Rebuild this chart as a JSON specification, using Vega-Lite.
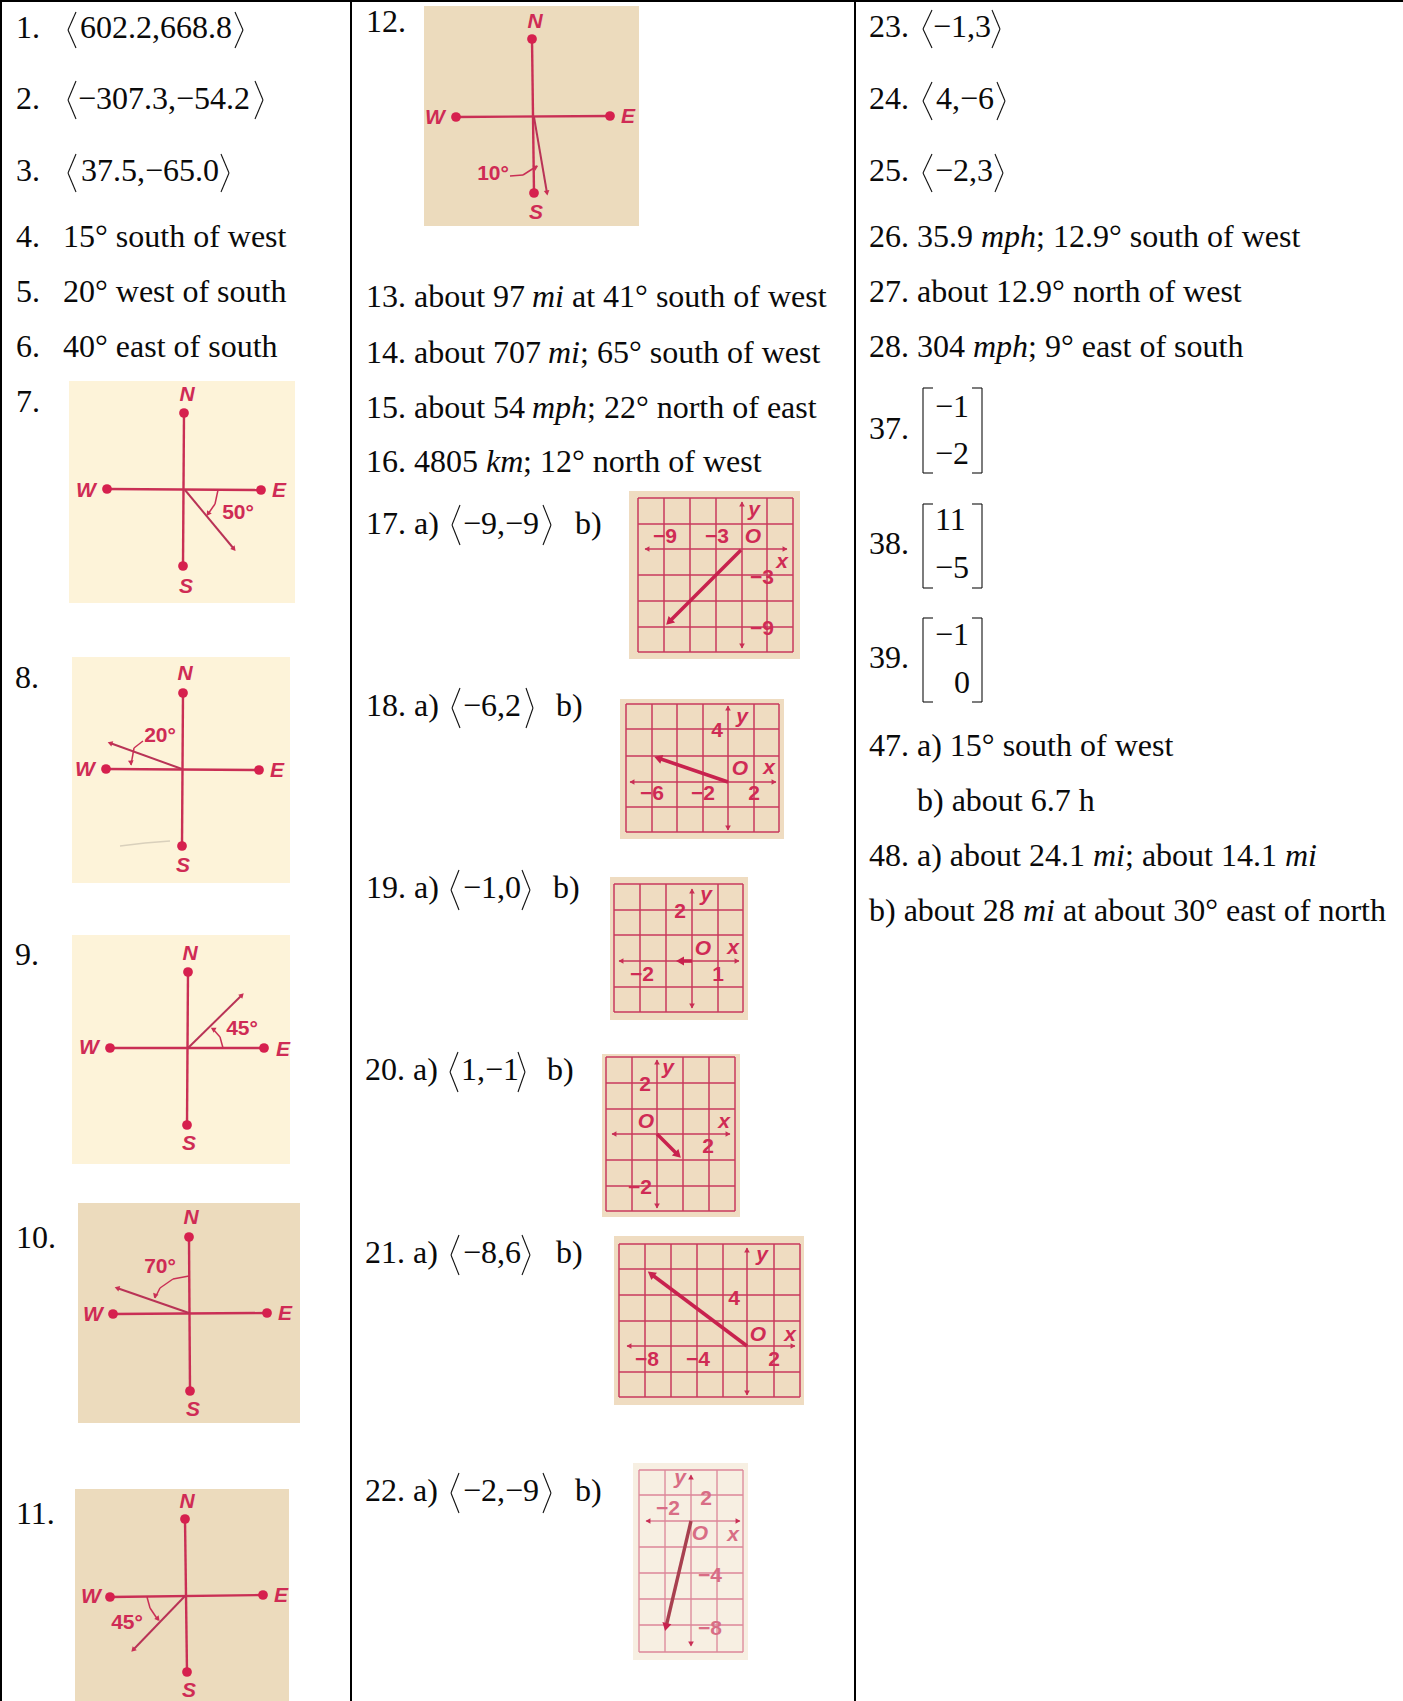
{"$schema":"https://vega.github.io/schema/vega-lite/v6.json","width":1403,"height":1701,"autosize":"none","padding":0,"background":"white","view":{"stroke":null},
"datasets":{
"panels":[
{"id":"7","paper":"cream","x":69,"x2":295,"y":381,"y2":603},
{"id":"8","paper":"cream","x":72,"x2":290,"y":657,"y2":883},
{"id":"9","paper":"cream","x":72,"x2":290,"y":935,"y2":1164},
{"id":"10","paper":"tan","x":78,"x2":300,"y":1203,"y2":1423},
{"id":"11","paper":"tan","x":75,"x2":289,"y":1489,"y2":1701},
{"id":"12","paper":"tan","x":424,"x2":639,"y":6,"y2":226},
{"id":"17","paper":"tan2","x":629,"x2":800,"y":491,"y2":659},
{"id":"18","paper":"tan2","x":620,"x2":784,"y":699,"y2":839},
{"id":"19","paper":"tan2","x":610,"x2":748,"y":877,"y2":1020},
{"id":"20","paper":"tan2","x":602,"x2":740,"y":1054,"y2":1217},
{"id":"21","paper":"tan2","x":614,"x2":804,"y":1236,"y2":1405},
{"id":"22","paper":"pale","x":633,"x2":748,"y":1463,"y2":1660}],
"strokes":[
{"k":"table","x":0,"x2":1403,"y":1,"y2":1},{"k":"table","x":1,"x2":1,"y":0,"y2":1701},{"k":"table","x":351,"x2":351,"y":0,"y2":1701},{"k":"table","x":855,"x2":855,"y":0,"y2":1701},
{"k":"smudge","x":120,"x2":145,"y":846,"y2":843},{"k":"smudge","x":145,"x2":170,"y":843,"y2":841},
{"k":"axis","x":184,"x2":183,"y":413,"y2":566},{"k":"axis","x":107,"x2":261,"y":489,"y2":490},{"k":"ray","x":185,"x2":234,"y":490,"y2":549},{"k":"arc","x":218,"x2":215,"y":490,"y2":504},{"k":"arc","x":215,"x2":208,"y":504,"y2":514},
{"k":"axis","x":183,"x2":182,"y":693,"y2":846},{"k":"axis","x":106,"x2":259,"y":769,"y2":770},{"k":"ray","x":182,"x2":110,"y":769,"y2":743},{"k":"arc","x":143,"x2":134,"y":741,"y2":748},{"k":"arc","x":134,"x2":131,"y":748,"y2":765},
{"k":"axis","x":188,"x2":187,"y":972,"y2":1125},{"k":"axis","x":110,"x2":264,"y":1048,"y2":1048},{"k":"ray","x":188,"x2":242,"y":1048,"y2":995},{"k":"arc","x":223,"x2":220,"y":1048,"y2":1037},{"k":"arc","x":220,"x2":213,"y":1037,"y2":1029},
{"k":"axis","x":189,"x2":190,"y":1237,"y2":1391},{"k":"axis","x":113,"x2":267,"y":1314,"y2":1313},{"k":"ray","x":189,"x2":117,"y":1313,"y2":1288},{"k":"arc","x":189,"x2":173,"y":1276,"y2":1279},{"k":"arc","x":173,"x2":160,"y":1279,"y2":1288},{"k":"arc","x":160,"x2":155,"y":1288,"y2":1298},
{"k":"axis","x":185,"x2":187,"y":1519,"y2":1672},{"k":"axis","x":110,"x2":263,"y":1597,"y2":1595},{"k":"ray","x":185,"x2":133,"y":1596,"y2":1650},{"k":"arc","x":147,"x2":150,"y":1597,"y2":1608},{"k":"arc","x":150,"x2":158,"y":1608,"y2":1620},
{"k":"axis","x":532,"x2":534,"y":39,"y2":193},{"k":"axis","x":456,"x2":610,"y":117,"y2":116},{"k":"ray","x":534,"x2":547,"y":117,"y2":193},{"k":"arc","x":510,"x2":523,"y":176,"y2":175},{"k":"arc","x":523,"x2":537,"y":175,"y2":166},
{"k":"grid","x":638,"x2":638,"y":498,"y2":652},{"k":"grid","x":664,"x2":664,"y":498,"y2":652},{"k":"grid","x":690,"x2":690,"y":498,"y2":652},{"k":"grid","x":716,"x2":716,"y":498,"y2":652},{"k":"grid","x":767,"x2":767,"y":498,"y2":652},{"k":"grid","x":793,"x2":793,"y":498,"y2":652},
{"k":"grid","x":638,"x2":793,"y":498,"y2":498},{"k":"grid","x":638,"x2":793,"y":524,"y2":524},{"k":"grid","x":638,"x2":793,"y":575,"y2":575},{"k":"grid","x":638,"x2":793,"y":601,"y2":601},{"k":"grid","x":638,"x2":793,"y":627,"y2":627},{"k":"grid","x":638,"x2":793,"y":652,"y2":652},
{"k":"grid","x":645,"x2":787,"y":549,"y2":549},{"k":"grid","x":742,"x2":742,"y":502,"y2":648},{"k":"vector","x":741,"x2":669,"y":550,"y2":622},
{"k":"grid","x":626,"x2":626,"y":704,"y2":832},{"k":"grid","x":652,"x2":652,"y":704,"y2":832},{"k":"grid","x":677,"x2":677,"y":704,"y2":832},{"k":"grid","x":703,"x2":703,"y":704,"y2":832},{"k":"grid","x":754,"x2":754,"y":704,"y2":832},{"k":"grid","x":779,"x2":779,"y":704,"y2":832},
{"k":"grid","x":626,"x2":779,"y":704,"y2":704},{"k":"grid","x":626,"x2":779,"y":729,"y2":729},{"k":"grid","x":626,"x2":779,"y":756,"y2":756},{"k":"grid","x":626,"x2":779,"y":807,"y2":807},{"k":"grid","x":626,"x2":779,"y":832,"y2":832},
{"k":"grid","x":630,"x2":776,"y":782,"y2":782},{"k":"grid","x":728,"x2":728,"y":706,"y2":830},{"k":"vector","x":728,"x2":658,"y":782,"y2":758},
{"k":"grid","x":614,"x2":614,"y":884,"y2":1012},{"k":"grid","x":640,"x2":640,"y":884,"y2":1012},{"k":"grid","x":666,"x2":666,"y":884,"y2":1012},{"k":"grid","x":718,"x2":718,"y":884,"y2":1012},{"k":"grid","x":743,"x2":743,"y":884,"y2":1012},
{"k":"grid","x":614,"x2":743,"y":884,"y2":884},{"k":"grid","x":614,"x2":743,"y":910,"y2":910},{"k":"grid","x":614,"x2":743,"y":935,"y2":935},{"k":"grid","x":614,"x2":743,"y":987,"y2":987},{"k":"grid","x":614,"x2":743,"y":1012,"y2":1012},
{"k":"grid","x":619,"x2":739,"y":961,"y2":961},{"k":"grid","x":692,"x2":692,"y":889,"y2":1008},{"k":"vector","x":692,"x2":680,"y":961,"y2":961},
{"k":"grid","x":606,"x2":606,"y":1057,"y2":1211},{"k":"grid","x":632,"x2":632,"y":1057,"y2":1211},{"k":"grid","x":683,"x2":683,"y":1057,"y2":1211},{"k":"grid","x":709,"x2":709,"y":1057,"y2":1211},{"k":"grid","x":735,"x2":735,"y":1057,"y2":1211},
{"k":"grid","x":606,"x2":735,"y":1057,"y2":1057},{"k":"grid","x":606,"x2":735,"y":1083,"y2":1083},{"k":"grid","x":606,"x2":735,"y":1109,"y2":1109},{"k":"grid","x":606,"x2":735,"y":1160,"y2":1160},{"k":"grid","x":606,"x2":735,"y":1186,"y2":1186},{"k":"grid","x":606,"x2":735,"y":1211,"y2":1211},
{"k":"grid","x":612,"x2":730,"y":1134,"y2":1134},{"k":"grid","x":657,"x2":657,"y":1060,"y2":1208},{"k":"vector","x":657,"x2":678,"y":1134,"y2":1155},
{"k":"grid","x":619,"x2":619,"y":1244,"y2":1397},{"k":"grid","x":645,"x2":645,"y":1244,"y2":1397},{"k":"grid","x":671,"x2":671,"y":1244,"y2":1397},{"k":"grid","x":697,"x2":697,"y":1244,"y2":1397},{"k":"grid","x":723,"x2":723,"y":1244,"y2":1397},{"k":"grid","x":774,"x2":774,"y":1244,"y2":1397},{"k":"grid","x":800,"x2":800,"y":1244,"y2":1397},
{"k":"grid","x":619,"x2":800,"y":1244,"y2":1244},{"k":"grid","x":619,"x2":800,"y":1269,"y2":1269},{"k":"grid","x":619,"x2":800,"y":1295,"y2":1295},{"k":"grid","x":619,"x2":800,"y":1321,"y2":1321},{"k":"grid","x":619,"x2":800,"y":1372,"y2":1372},{"k":"grid","x":619,"x2":800,"y":1397,"y2":1397},
{"k":"grid","x":627,"x2":795,"y":1346,"y2":1346},{"k":"grid","x":747,"x2":747,"y":1248,"y2":1395},{"k":"vector","x":747,"x2":651,"y":1346,"y2":1274},
{"k":"palegrid","x":639,"x2":639,"y":1470,"y2":1652},{"k":"palegrid","x":665,"x2":665,"y":1470,"y2":1652},{"k":"palegrid","x":717,"x2":717,"y":1470,"y2":1652},{"k":"palegrid","x":743,"x2":743,"y":1470,"y2":1652},
{"k":"palegrid","x":639,"x2":743,"y":1470,"y2":1470},{"k":"palegrid","x":639,"x2":743,"y":1495,"y2":1495},{"k":"palegrid","x":639,"x2":743,"y":1547,"y2":1547},{"k":"palegrid","x":639,"x2":743,"y":1573,"y2":1573},{"k":"palegrid","x":639,"x2":743,"y":1599,"y2":1599},{"k":"palegrid","x":639,"x2":743,"y":1625,"y2":1625},{"k":"palegrid","x":639,"x2":743,"y":1652,"y2":1652},
{"k":"palegrid","x":646,"x2":740,"y":1521,"y2":1521},{"k":"palegrid","x":691,"x2":691,"y":1475,"y2":1646},{"k":"palevector","x":691,"x2":666,"y":1521,"y2":1627},
{"k":"bracket","x":76,"x2":68,"y":12,"y2":30},{"k":"bracket","x":68,"x2":76,"y":30,"y2":48},{"k":"bracket","x":235,"x2":243,"y":12,"y2":30},{"k":"bracket","x":243,"x2":235,"y":30,"y2":48},
{"k":"bracket","x":76,"x2":68,"y":81,"y2":100},{"k":"bracket","x":68,"x2":76,"y":100,"y2":119},{"k":"bracket","x":255,"x2":263,"y":81,"y2":100},{"k":"bracket","x":263,"x2":255,"y":100,"y2":119},
{"k":"bracket","x":76,"x2":68,"y":154,"y2":173},{"k":"bracket","x":68,"x2":76,"y":173,"y2":192},{"k":"bracket","x":221,"x2":229,"y":154,"y2":173},{"k":"bracket","x":229,"x2":221,"y":173,"y2":192},
{"k":"bracket","x":460,"x2":452,"y":505,"y2":525},{"k":"bracket","x":452,"x2":460,"y":525,"y2":545},{"k":"bracket","x":543,"x2":551,"y":505,"y2":525},{"k":"bracket","x":551,"x2":543,"y":525,"y2":545},
{"k":"bracket","x":460,"x2":452,"y":688,"y2":708},{"k":"bracket","x":452,"x2":460,"y":708,"y2":728},{"k":"bracket","x":526,"x2":533,"y":688,"y2":708},{"k":"bracket","x":533,"x2":526,"y":708,"y2":728},
{"k":"bracket","x":459,"x2":451,"y":870,"y2":890},{"k":"bracket","x":451,"x2":459,"y":890,"y2":910},{"k":"bracket","x":522,"x2":530,"y":870,"y2":890},{"k":"bracket","x":530,"x2":522,"y":890,"y2":910},
{"k":"bracket","x":458,"x2":450,"y":1052,"y2":1072},{"k":"bracket","x":450,"x2":458,"y":1072,"y2":1092},{"k":"bracket","x":518,"x2":525,"y":1052,"y2":1072},{"k":"bracket","x":525,"x2":518,"y":1072,"y2":1092},
{"k":"bracket","x":459,"x2":451,"y":1235,"y2":1255},{"k":"bracket","x":451,"x2":459,"y":1255,"y2":1275},{"k":"bracket","x":522,"x2":530,"y":1235,"y2":1255},{"k":"bracket","x":530,"x2":522,"y":1255,"y2":1275},
{"k":"bracket","x":459,"x2":451,"y":1473,"y2":1493},{"k":"bracket","x":451,"x2":459,"y":1493,"y2":1513},{"k":"bracket","x":543,"x2":551,"y":1473,"y2":1493},{"k":"bracket","x":551,"x2":543,"y":1493,"y2":1513},
{"k":"bracket","x":932,"x2":923,"y":10,"y2":29},{"k":"bracket","x":923,"x2":932,"y":29,"y2":48},{"k":"bracket","x":992,"x2":1000,"y":10,"y2":29},{"k":"bracket","x":1000,"x2":992,"y":29,"y2":48},
{"k":"bracket","x":932,"x2":923,"y":82,"y2":101},{"k":"bracket","x":923,"x2":932,"y":101,"y2":120},{"k":"bracket","x":997,"x2":1005,"y":82,"y2":101},{"k":"bracket","x":1005,"x2":997,"y":101,"y2":120},
{"k":"bracket","x":932,"x2":923,"y":154,"y2":173},{"k":"bracket","x":923,"x2":932,"y":173,"y2":192},{"k":"bracket","x":995,"x2":1003,"y":154,"y2":173},{"k":"bracket","x":1003,"x2":995,"y":173,"y2":192},
{"k":"bracket","x":923,"x2":923,"y":388,"y2":473},{"k":"bracket","x":923,"x2":933,"y":388,"y2":388},{"k":"bracket","x":923,"x2":933,"y":473,"y2":473},{"k":"bracket","x":982,"x2":982,"y":388,"y2":473},{"k":"bracket","x":972,"x2":982,"y":388,"y2":388},{"k":"bracket","x":972,"x2":982,"y":473,"y2":473},
{"k":"bracket","x":923,"x2":923,"y":504,"y2":588},{"k":"bracket","x":923,"x2":933,"y":504,"y2":504},{"k":"bracket","x":923,"x2":933,"y":588,"y2":588},{"k":"bracket","x":982,"x2":982,"y":504,"y2":588},{"k":"bracket","x":972,"x2":982,"y":504,"y2":504},{"k":"bracket","x":972,"x2":982,"y":588,"y2":588},
{"k":"bracket","x":923,"x2":923,"y":618,"y2":702},{"k":"bracket","x":923,"x2":933,"y":618,"y2":618},{"k":"bracket","x":923,"x2":933,"y":702,"y2":702},{"k":"bracket","x":982,"x2":982,"y":618,"y2":702},{"k":"bracket","x":972,"x2":982,"y":618,"y2":618},{"k":"bracket","x":972,"x2":982,"y":702,"y2":702}],
"dots":[
{"x":184,"y":413},{"x":183,"y":566},{"x":107,"y":489},{"x":261,"y":490},
{"x":183,"y":693},{"x":182,"y":846},{"x":106,"y":769},{"x":259,"y":770},
{"x":188,"y":972},{"x":187,"y":1125},{"x":110,"y":1048},{"x":264,"y":1048},
{"x":189,"y":1237},{"x":190,"y":1391},{"x":113,"y":1314},{"x":267,"y":1313},
{"x":185,"y":1519},{"x":187,"y":1672},{"x":110,"y":1597},{"x":263,"y":1595},
{"x":532,"y":39},{"x":534,"y":193},{"x":456,"y":117},{"x":610,"y":116}],
"heads":[
{"k":"ray","x":234,"y":549,"a":140},{"k":"ray","x":110,"y":743,"a":290},{"k":"ray","x":242,"y":995,"a":45},{"k":"ray","x":117,"y":1288,"a":289},{"k":"ray","x":133,"y":1650,"a":224},{"k":"ray","x":547,"y":193,"a":170},
{"k":"ray","x":208,"y":514,"a":215},{"k":"ray","x":131,"y":763,"a":175},{"k":"ray","x":213,"y":1029,"a":300},{"k":"ray","x":155,"y":1296,"a":200},{"k":"ray","x":158,"y":1619,"a":140},{"k":"ray","x":536,"y":167,"a":60},
{"k":"vector","x":669,"y":622,"a":225},{"k":"vector","x":658,"y":758,"a":289},{"k":"vector","x":680,"y":961,"a":270},{"k":"vector","x":678,"y":1155,"a":135},{"k":"vector","x":651,"y":1274,"a":307},{"k":"vector","x":666,"y":1627,"a":193},
{"k":"ray","x":647,"y":549,"a":270},{"k":"ray","x":785,"y":549,"a":90},{"k":"ray","x":742,"y":504,"a":0},{"k":"ray","x":742,"y":646,"a":180},
{"k":"ray","x":632,"y":782,"a":270},{"k":"ray","x":774,"y":782,"a":90},{"k":"ray","x":728,"y":708,"a":0},{"k":"ray","x":728,"y":828,"a":180},
{"k":"ray","x":621,"y":961,"a":270},{"k":"ray","x":737,"y":961,"a":90},{"k":"ray","x":692,"y":891,"a":0},{"k":"ray","x":692,"y":1006,"a":180},
{"k":"ray","x":614,"y":1134,"a":270},{"k":"ray","x":728,"y":1134,"a":90},{"k":"ray","x":657,"y":1062,"a":0},{"k":"ray","x":657,"y":1206,"a":180},
{"k":"ray","x":629,"y":1346,"a":270},{"k":"ray","x":793,"y":1346,"a":90},{"k":"ray","x":747,"y":1250,"a":0},{"k":"ray","x":747,"y":1393,"a":180},
{"k":"ray","x":648,"y":1521,"a":270},{"k":"ray","x":738,"y":1521,"a":90},{"k":"ray","x":691,"y":1477,"a":0},{"k":"ray","x":691,"y":1644,"a":180}],
"labels":[
{"k":"letter","t":"N","x":187,"y":395},{"k":"letter","t":"S","x":186,"y":587},{"k":"letter","t":"W","x":86,"y":491},{"k":"letter","t":"E","x":279,"y":491},{"k":"num","t":"50°","x":238,"y":513},
{"k":"letter","t":"N","x":185,"y":674},{"k":"letter","t":"S","x":183,"y":866},{"k":"letter","t":"W","x":85,"y":770},{"k":"letter","t":"E","x":277,"y":771},{"k":"num","t":"20°","x":160,"y":736},
{"k":"letter","t":"N","x":190,"y":954},{"k":"letter","t":"S","x":189,"y":1144},{"k":"letter","t":"W","x":89,"y":1048},{"k":"letter","t":"E","x":283,"y":1050},{"k":"num","t":"45°","x":242,"y":1029},
{"k":"letter","t":"N","x":191,"y":1218},{"k":"letter","t":"S","x":193,"y":1410},{"k":"letter","t":"W","x":93,"y":1315},{"k":"letter","t":"E","x":285,"y":1314},{"k":"num","t":"70°","x":160,"y":1267},
{"k":"letter","t":"N","x":187,"y":1502},{"k":"letter","t":"S","x":189,"y":1691},{"k":"letter","t":"W","x":91,"y":1597},{"k":"letter","t":"E","x":281,"y":1596},{"k":"num","t":"45°","x":127,"y":1623},
{"k":"letter","t":"N","x":535,"y":22},{"k":"letter","t":"S","x":536,"y":213},{"k":"letter","t":"W","x":435,"y":118},{"k":"letter","t":"E","x":628,"y":117},{"k":"num","t":"10°","x":493,"y":174},
{"k":"num","t":"−9","x":665,"y":537},{"k":"num","t":"−3","x":717,"y":537},{"k":"letter","t":"O","x":753,"y":537},{"k":"letter","t":"y","x":754,"y":510},{"k":"letter","t":"x","x":782,"y":562},{"k":"num","t":"−3","x":762,"y":578},{"k":"num","t":"−9","x":762,"y":629},
{"k":"letter","t":"y","x":742,"y":717},{"k":"num","t":"4","x":717,"y":731},{"k":"letter","t":"O","x":740,"y":769},{"k":"letter","t":"x","x":769,"y":768},{"k":"num","t":"−6","x":652,"y":794},{"k":"num","t":"−2","x":703,"y":794},{"k":"num","t":"2","x":754,"y":794},
{"k":"letter","t":"y","x":706,"y":895},{"k":"num","t":"2","x":680,"y":912},{"k":"letter","t":"O","x":703,"y":949},{"k":"letter","t":"x","x":733,"y":948},{"k":"num","t":"−2","x":642,"y":975},{"k":"num","t":"1","x":718,"y":975},
{"k":"letter","t":"y","x":668,"y":1068},{"k":"num","t":"2","x":645,"y":1085},{"k":"letter","t":"O","x":646,"y":1122},{"k":"letter","t":"x","x":724,"y":1122},{"k":"num","t":"2","x":708,"y":1147},{"k":"num","t":"−2","x":640,"y":1188},
{"k":"letter","t":"y","x":762,"y":1255},{"k":"num","t":"4","x":734,"y":1299},{"k":"letter","t":"O","x":758,"y":1335},{"k":"letter","t":"x","x":790,"y":1335},{"k":"num","t":"−8","x":647,"y":1360},{"k":"num","t":"−4","x":698,"y":1360},{"k":"num","t":"2","x":774,"y":1360},
{"k":"paleletter","t":"y","x":680,"y":1478},{"k":"palenum","t":"2","x":706,"y":1499},{"k":"palenum","t":"−2","x":668,"y":1509},{"k":"paleletter","t":"O","x":700,"y":1534},{"k":"paleletter","t":"x","x":733,"y":1535},{"k":"palenum","t":"−4","x":710,"y":1576},{"k":"palenum","t":"−8","x":710,"y":1629}],
"prose":[
{"k":"roman","t":"1.","x":16,"y":38},{"k":"roman","t":"602.2,668.8","x":80,"y":38},
{"k":"roman","t":"2.","x":16,"y":109},{"k":"roman","t":"−307.3,−54.2","x":78,"y":109},
{"k":"roman","t":"3.","x":16,"y":181},{"k":"roman","t":"37.5,−65.0","x":81,"y":181},
{"k":"roman","t":"4.","x":16,"y":247},{"k":"roman","t":"15° south of west","x":63,"y":247},
{"k":"roman","t":"5.","x":16,"y":302},{"k":"roman","t":"20° west of south","x":63,"y":302},
{"k":"roman","t":"6.","x":16,"y":357},{"k":"roman","t":"40° east of south","x":63,"y":357},
{"k":"roman","t":"7.","x":16,"y":412},{"k":"roman","t":"8.","x":15,"y":688},{"k":"roman","t":"9.","x":15,"y":965},{"k":"roman","t":"10.","x":16,"y":1248},{"k":"roman","t":"11.","x":16,"y":1524},
{"k":"roman","t":"12.","x":366,"y":32},
{"k":"roman","t":"13. about 97","x":366,"y":307},{"k":"unit","t":"mi","x":532,"y":307},{"k":"roman","t":"at 41° south of west","x":572,"y":307},
{"k":"roman","t":"14. about 707","x":366,"y":363},{"k":"unit","t":"mi","x":548,"y":363},{"k":"roman","t":"; 65° south of west","x":580,"y":363},
{"k":"roman","t":"15. about 54","x":366,"y":418},{"k":"unit","t":"mph","x":532,"y":418},{"k":"roman","t":"; 22° north of east","x":587,"y":418},
{"k":"roman","t":"16. 4805","x":366,"y":472},{"k":"unit","t":"km","x":486,"y":472},{"k":"roman","t":"; 12° north of west","x":523,"y":472},
{"k":"roman","t":"17. a)","x":366,"y":534},{"k":"roman","t":"−9,−9","x":463,"y":534},{"k":"roman","t":"b)","x":575,"y":534},
{"k":"roman","t":"18. a)","x":366,"y":716},{"k":"roman","t":"−6,2","x":463,"y":716},{"k":"roman","t":"b)","x":556,"y":716},
{"k":"roman","t":"19. a)","x":366,"y":898},{"k":"roman","t":"−1,0","x":463,"y":898},{"k":"roman","t":"b)","x":553,"y":898},
{"k":"roman","t":"20. a)","x":365,"y":1080},{"k":"roman","t":"1,−1","x":461,"y":1080},{"k":"roman","t":"b)","x":547,"y":1080},
{"k":"roman","t":"21. a)","x":365,"y":1263},{"k":"roman","t":"−8,6","x":463,"y":1263},{"k":"roman","t":"b)","x":556,"y":1263},
{"k":"roman","t":"22. a)","x":365,"y":1501},{"k":"roman","t":"−2,−9","x":463,"y":1501},{"k":"roman","t":"b)","x":575,"y":1501},
{"k":"roman","t":"23.","x":869,"y":37},{"k":"roman","t":"−1,3","x":933,"y":37},
{"k":"roman","t":"24.","x":869,"y":109},{"k":"roman","t":"4,−6","x":936,"y":109},
{"k":"roman","t":"25.","x":869,"y":181},{"k":"roman","t":"−2,3","x":935,"y":181},
{"k":"roman","t":"26. 35.9","x":869,"y":247},{"k":"unit","t":"mph","x":981,"y":247},{"k":"roman","t":"; 12.9° south of west","x":1036,"y":247},
{"k":"roman","t":"27. about 12.9° north of west","x":869,"y":302},
{"k":"roman","t":"28. 304","x":869,"y":357},{"k":"unit","t":"mph","x":973,"y":357},{"k":"roman","t":"; 9° east of south","x":1028,"y":357},
{"k":"roman","t":"37.","x":869,"y":439},{"k":"roman","t":"−1","x":935,"y":417},{"k":"roman","t":"−2","x":935,"y":464},
{"k":"roman","t":"38.","x":869,"y":554},{"k":"roman","t":"11","x":935,"y":530},{"k":"roman","t":"−5","x":935,"y":578},
{"k":"roman","t":"39.","x":869,"y":668},{"k":"roman","t":"−1","x":935,"y":645},{"k":"roman","t":"0","x":954,"y":693},
{"k":"roman","t":"47. a) 15° south of west","x":869,"y":756},
{"k":"roman","t":"b) about 6.7 h","x":917,"y":811},
{"k":"roman","t":"48. a) about 24.1","x":869,"y":866},{"k":"unit","t":"mi","x":1093,"y":866},{"k":"roman","t":"; about 14.1","x":1125,"y":866},{"k":"unit","t":"mi","x":1285,"y":866},
{"k":"roman","t":"b) about 28","x":869,"y":921},{"k":"unit","t":"mi","x":1023,"y":921},{"k":"roman","t":"at about 30° east of north","x":1063,"y":921}]
},
"encoding":{
"x":{"field":"x","type":"quantitative","scale":{"domain":[0,1403],"nice":false,"zero":false},"axis":null},
"y":{"field":"y","type":"quantitative","scale":{"domain":[0,1701],"reverse":true,"nice":false,"zero":false},"axis":null}},
"layer":[
{"data":{"name":"panels"},"mark":{"type":"rect"},"encoding":{"x2":{"field":"x2"},"y2":{"field":"y2"},"color":{"field":"paper","type":"nominal","scale":{"domain":["cream","tan","tan2","pale"],"range":["#fdf3d9","#ecdbbd","#efdcc1","#f7efe2"]},"legend":null}}},
{"data":{"name":"strokes"},"transform":[{"filter":"datum.k==='smudge'"}],"mark":{"type":"rule","color":"#d9d0bc","strokeWidth":1.5},"encoding":{"x2":{"field":"x2"},"y2":{"field":"y2"}}},
{"data":{"name":"strokes"},"transform":[{"filter":"datum.k==='grid'"}],"mark":{"type":"rule","color":"#c93a5c","strokeWidth":1.5},"encoding":{"x2":{"field":"x2"},"y2":{"field":"y2"}}},
{"data":{"name":"strokes"},"transform":[{"filter":"datum.k==='palegrid'"}],"mark":{"type":"rule","color":"#dc8698","strokeWidth":1.3},"encoding":{"x2":{"field":"x2"},"y2":{"field":"y2"}}},
{"data":{"name":"strokes"},"transform":[{"filter":"datum.k==='axis'"}],"mark":{"type":"rule","color":"#c92f55","strokeWidth":2.4},"encoding":{"x2":{"field":"x2"},"y2":{"field":"y2"}}},
{"data":{"name":"strokes"},"transform":[{"filter":"datum.k==='ray'"}],"mark":{"type":"rule","color":"#b93356","strokeWidth":2},"encoding":{"x2":{"field":"x2"},"y2":{"field":"y2"}}},
{"data":{"name":"strokes"},"transform":[{"filter":"datum.k==='arc'"}],"mark":{"type":"rule","color":"#c92f55","strokeWidth":1.5},"encoding":{"x2":{"field":"x2"},"y2":{"field":"y2"}}},
{"data":{"name":"strokes"},"transform":[{"filter":"datum.k==='vector'"}],"mark":{"type":"rule","color":"#c8224e","strokeWidth":3.6},"encoding":{"x2":{"field":"x2"},"y2":{"field":"y2"}}},
{"data":{"name":"strokes"},"transform":[{"filter":"datum.k==='palevector'"}],"mark":{"type":"rule","color":"#a8404f","strokeWidth":3.4},"encoding":{"x2":{"field":"x2"},"y2":{"field":"y2"}}},
{"data":{"name":"strokes"},"transform":[{"filter":"datum.k==='table'"}],"mark":{"type":"rule","color":"#000000","strokeWidth":2},"encoding":{"x2":{"field":"x2"},"y2":{"field":"y2"}}},
{"data":{"name":"strokes"},"transform":[{"filter":"datum.k==='bracket'"}],"mark":{"type":"rule","color":"#111111","strokeWidth":1.1},"encoding":{"x2":{"field":"x2"},"y2":{"field":"y2"}}},
{"data":{"name":"dots"},"mark":{"type":"point","filled":true,"color":"#d6204e","opacity":1,"size":95}},
{"data":{"name":"heads"},"transform":[{"filter":"datum.k==='ray'"}],"mark":{"type":"point","shape":"triangle-up","filled":true,"color":"#c92f55","opacity":1,"size":32},"encoding":{"angle":{"field":"a","type":"quantitative","scale":{"domain":[0,360],"range":[0,360]}}}},
{"data":{"name":"heads"},"transform":[{"filter":"datum.k==='vector'"}],"mark":{"type":"point","shape":"triangle-up","filled":true,"color":"#c8224e","opacity":1,"size":85},"encoding":{"angle":{"field":"a","type":"quantitative","scale":{"domain":[0,360],"range":[0,360]}}}},
{"data":{"name":"labels"},"transform":[{"filter":"datum.k==='letter'"}],"mark":{"type":"text","font":"Liberation Sans","fontSize":21,"fontWeight":"bold","fontStyle":"italic","color":"#cf2b55","align":"center","baseline":"middle"},"encoding":{"text":{"field":"t"}}},
{"data":{"name":"labels"},"transform":[{"filter":"datum.k==='num'"}],"mark":{"type":"text","font":"Liberation Sans","fontSize":21,"fontWeight":"bold","color":"#cf2b55","align":"center","baseline":"middle"},"encoding":{"text":{"field":"t"}}},
{"data":{"name":"labels"},"transform":[{"filter":"datum.k==='paleletter'"}],"mark":{"type":"text","font":"Liberation Sans","fontSize":21,"fontWeight":"bold","fontStyle":"italic","color":"#d86d85","align":"center","baseline":"middle"},"encoding":{"text":{"field":"t"}}},
{"data":{"name":"labels"},"transform":[{"filter":"datum.k==='palenum'"}],"mark":{"type":"text","font":"Liberation Sans","fontSize":21,"fontWeight":"bold","color":"#d86d85","align":"center","baseline":"middle"},"encoding":{"text":{"field":"t"}}},
{"data":{"name":"prose"},"transform":[{"filter":"datum.k==='roman'"}],"mark":{"type":"text","font":"Liberation Serif","fontSize":32,"color":"#0a0a0a","align":"left","baseline":"alphabetic"},"encoding":{"text":{"field":"t"}}},
{"data":{"name":"prose"},"transform":[{"filter":"datum.k==='unit'"}],"mark":{"type":"text","font":"Liberation Serif","fontSize":32,"fontStyle":"italic","color":"#0a0a0a","align":"left","baseline":"alphabetic"},"encoding":{"text":{"field":"t"}}}
]}
